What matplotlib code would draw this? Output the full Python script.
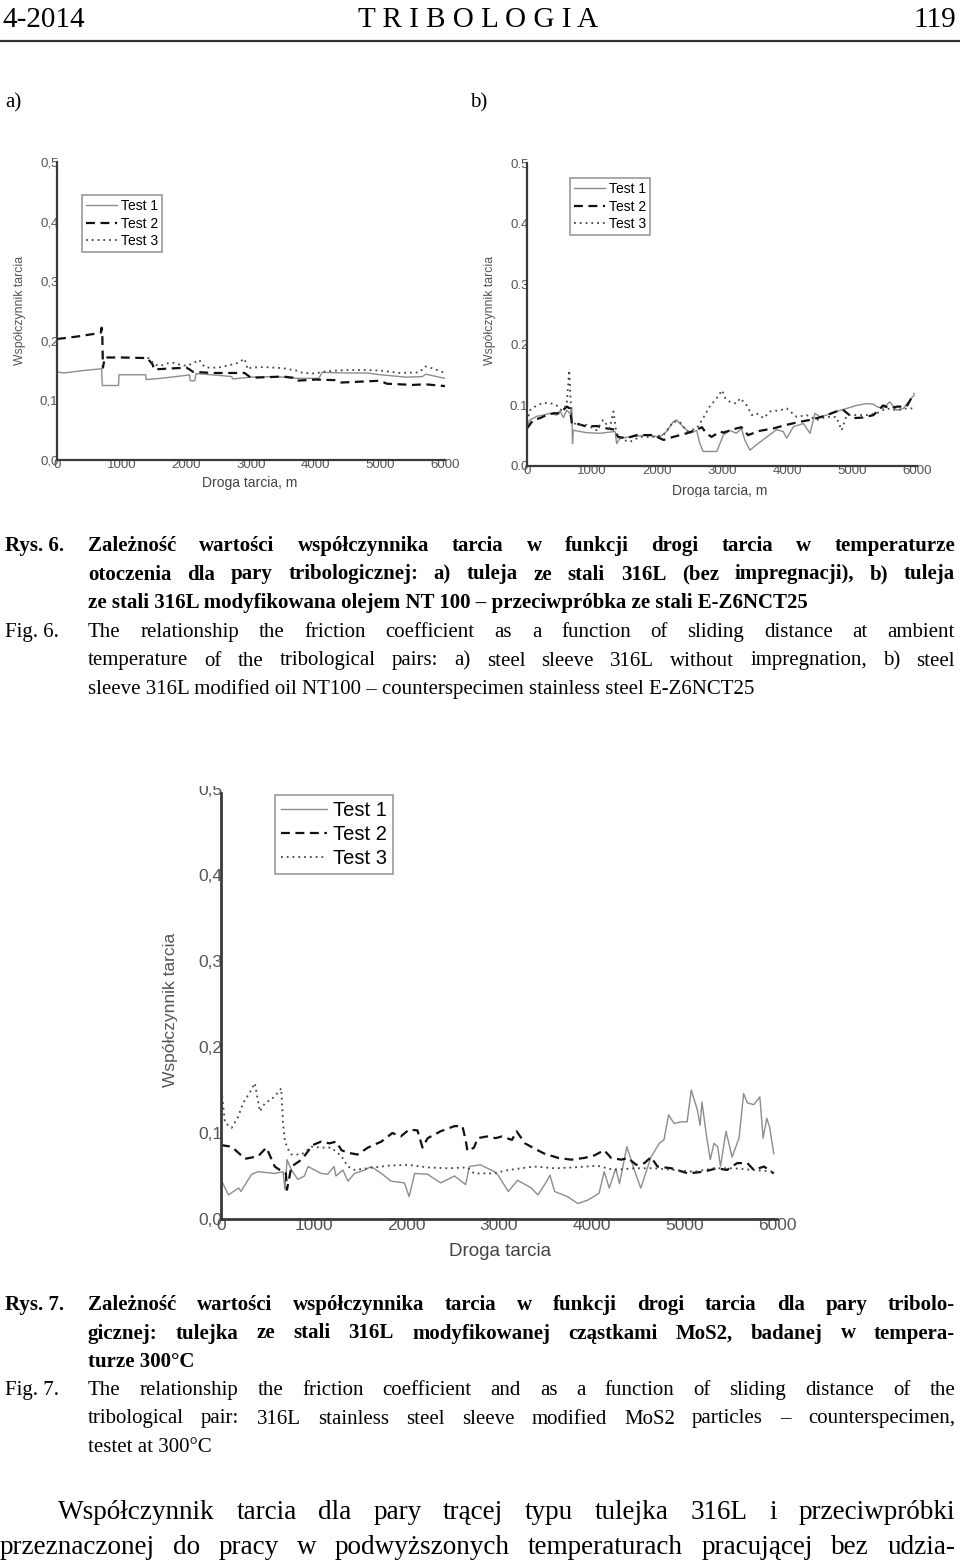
import matplotlib
matplotlib.use("Agg")
import matplotlib.pyplot as plt
from matplotlib.lines import Line2D
from matplotlib.transforms import Bbox

# ---------------- data: Fig. 6a (316L, no impregnation) ----------------
a_t1_x = [0, 100, 400, 680, 690, 700, 950, 960, 1370, 1380, 1600, 2000, 2050, 2060, 2130, 2150,
          2500, 2700, 2720, 3000, 3400, 3700, 4050, 4100, 4500, 4800, 5000, 5400, 5650, 5700, 6000]
a_t1_y = [0.148, 0.146, 0.150, 0.153, 0.153, 0.125, 0.125, 0.143, 0.143, 0.135, 0.137, 0.142, 0.143,
          0.133, 0.133, 0.145, 0.142, 0.140, 0.136, 0.139, 0.140, 0.137, 0.137, 0.147, 0.146, 0.146,
          0.143, 0.139, 0.140, 0.144, 0.137]
a_t2_x = [0, 300, 600, 680, 690, 700, 710, 740, 1000, 1400, 1420, 1480, 1500, 2000, 2050, 2100,
          2400, 2900, 2950, 3000, 3500, 3650, 3700, 4000, 4300, 4400, 5000, 5100, 5500, 5700, 6000]
a_t2_y = [0.203, 0.207, 0.212, 0.214, 0.222, 0.214, 0.155, 0.172, 0.172, 0.171, 0.168, 0.160, 0.152,
          0.155, 0.152, 0.148, 0.146, 0.146, 0.142, 0.138, 0.140, 0.138, 0.133, 0.135, 0.134, 0.130,
          0.133, 0.128, 0.126, 0.127, 0.124]
a_t3_x = [1400, 1450, 1500, 1600, 1700, 1800, 1900, 2000, 2100, 2200, 2250, 2300, 2500, 2700, 2800,
          2900, 2950, 3000, 3200, 3500, 3700, 3800, 4000, 4100, 4300, 4500, 4800, 5000, 5300, 5600,
          5700, 5800, 6000]
a_t3_y = [0.172, 0.168, 0.160, 0.158, 0.162, 0.163, 0.160, 0.158, 0.162, 0.168, 0.160, 0.155, 0.155,
          0.160, 0.163, 0.170, 0.152, 0.155, 0.156, 0.154, 0.150, 0.146, 0.145, 0.148, 0.150, 0.151,
          0.151, 0.150, 0.146, 0.147, 0.157, 0.154, 0.146]

# ---------------- data: Fig. 6b (316L + oil NT 100) ----------------
b_t1_x = [0, 46, 150, 250, 355, 456, 508, 560, 610, 660, 690, 700, 713, 815, 918, 1123, 1355, 1380,
          1430, 1585, 1840, 2045, 2150, 2250, 2300, 2400, 2510, 2610, 2660, 2710, 2810, 2920, 3020,
          3120, 3220, 3300, 3350, 3430, 3530, 3690, 3840, 3940, 3995, 4100, 4250, 4355, 4430, 4510,
          4610, 4760, 4920, 5070, 5225, 5330, 5380, 5480, 5580, 5690, 5790, 5890, 5955]
b_t1_y = [0.065, 0.076, 0.082, 0.084, 0.087, 0.084, 0.091, 0.080, 0.092, 0.087, 0.096, 0.037, 0.059,
          0.057, 0.055, 0.054, 0.057, 0.037, 0.046, 0.048, 0.051, 0.048, 0.057, 0.073, 0.076, 0.065,
          0.054, 0.059, 0.037, 0.024, 0.024, 0.024, 0.051, 0.059, 0.054, 0.062, 0.043, 0.026, 0.035,
          0.048, 0.060, 0.057, 0.046, 0.065, 0.070, 0.054, 0.087, 0.081, 0.084, 0.090, 0.095, 0.100,
          0.103, 0.102, 0.098, 0.095, 0.106, 0.092, 0.095, 0.109, 0.117]
b_t2_x = [0, 97, 200, 300, 405, 508, 610, 660, 690, 765, 918, 1070, 1225, 1355, 1400, 1530, 1690,
          1940, 2100, 2250, 2460, 2610, 2690, 2760, 2840, 2970, 3020, 3220, 3300, 3400, 3580, 3790,
          3995, 4200, 4355, 4560, 4760, 4870, 5020, 5170, 5330, 5480, 5580, 5690, 5840, 5955]
b_t2_y = [0.062, 0.076, 0.079, 0.084, 0.087, 0.087, 0.098, 0.095, 0.070, 0.070, 0.065, 0.066, 0.062,
          0.060, 0.048, 0.046, 0.051, 0.051, 0.043, 0.048, 0.054, 0.060, 0.064, 0.054, 0.048, 0.057,
          0.055, 0.062, 0.064, 0.051, 0.058, 0.062, 0.068, 0.073, 0.076, 0.082, 0.090, 0.092, 0.079,
          0.080, 0.084, 0.100, 0.095, 0.098, 0.098, 0.120]
b_t3_x = [0, 46, 150, 250, 355, 456, 530, 610, 650, 670, 690, 765, 918, 1070, 1170, 1270, 1330, 1380,
          1480, 1585, 1740, 1940, 2100, 2250, 2350, 2460, 2610, 2710, 2810, 2920, 3000, 3050, 3120,
          3220, 3280, 3380, 3460, 3530, 3640, 3740, 3890, 3995, 4150, 4300, 4460, 4610, 4760, 4840,
          4920, 5070, 5225, 5380, 5530, 5690, 5840, 5970]
b_t3_y = [0.073, 0.092, 0.100, 0.104, 0.104, 0.100, 0.092, 0.100, 0.158, 0.112, 0.073, 0.068, 0.068,
          0.059, 0.076, 0.062, 0.090, 0.051, 0.043, 0.040, 0.048, 0.048, 0.051, 0.073, 0.073, 0.057,
          0.062, 0.079, 0.098, 0.112, 0.125, 0.112, 0.106, 0.103, 0.112, 0.100, 0.084, 0.087, 0.079,
          0.090, 0.092, 0.095, 0.081, 0.084, 0.076, 0.081, 0.081, 0.059, 0.084, 0.084, 0.084, 0.087,
          0.095, 0.092, 0.095, 0.095]

# ---------------- data: Fig. 7 (316L + MoS2, 300 C) ----------------
c_t1_x = [0, 80, 190, 215, 330, 400, 580, 670, 690, 713, 760, 830, 900, 940, 1080, 1150, 1220, 1240,
          1315, 1370, 1440, 1550, 1620, 1730, 1835, 1980, 2030, 2090, 2230, 2370, 2520, 2640, 2680,
          2800, 2950, 2990, 3100, 3200, 3350, 3420, 3510, 3550, 3600, 3740, 3850, 3960, 4080, 4135,
          4190, 4260, 4300, 4380, 4460, 4530, 4640, 4730, 4780, 4830, 4890, 4960, 5030, 5075, 5140,
          5170, 5190, 5240, 5280, 5320, 5360, 5390, 5450, 5515, 5590, 5640, 5680, 5750, 5815, 5850,
          5890, 5920, 5965]
c_t1_y = [0.046, 0.028, 0.036, 0.032, 0.052, 0.055, 0.053, 0.055, 0.034, 0.069, 0.057, 0.046, 0.050,
          0.061, 0.053, 0.052, 0.061, 0.050, 0.057, 0.044, 0.053, 0.057, 0.061, 0.053, 0.044, 0.042,
          0.026, 0.053, 0.052, 0.042, 0.050, 0.040, 0.061, 0.063, 0.055, 0.051, 0.032, 0.045, 0.036,
          0.028, 0.043, 0.051, 0.032, 0.026, 0.018, 0.022, 0.030, 0.055, 0.036, 0.059, 0.041, 0.084,
          0.057, 0.036, 0.072, 0.088, 0.092, 0.121, 0.111, 0.113, 0.113, 0.150, 0.127, 0.109, 0.136,
          0.096, 0.069, 0.088, 0.084, 0.061, 0.102, 0.072, 0.094, 0.146, 0.135, 0.133, 0.142, 0.094,
          0.117, 0.107, 0.076]
c_t2_x = [0, 115, 260, 400, 490, 580, 635, 700, 712, 760, 870, 990, 1080, 1170, 1245, 1300, 1370,
          1475, 1585, 1730, 1850, 1940, 2030, 2120, 2175, 2230, 2370, 2520, 2605, 2640, 2660, 2730,
          2770, 2870, 2965, 3030, 3140, 3190, 3280, 3380, 3490, 3640, 3780, 3920, 4030, 4135, 4210,
          4320, 4390, 4480, 4570, 4640, 4710, 4860, 5040, 5210, 5350, 5460, 5570, 5680, 5750, 5860, 5965]
c_t2_y = [0.086, 0.084, 0.070, 0.073, 0.083, 0.061, 0.057, 0.053, 0.034, 0.061, 0.069, 0.086, 0.090,
          0.088, 0.090, 0.080, 0.077, 0.075, 0.083, 0.090, 0.100, 0.096, 0.104, 0.103, 0.083, 0.094,
          0.102, 0.108, 0.108, 0.092, 0.079, 0.083, 0.094, 0.096, 0.094, 0.096, 0.092, 0.102, 0.088,
          0.082, 0.076, 0.071, 0.069, 0.071, 0.074, 0.080, 0.071, 0.069, 0.071, 0.063, 0.065, 0.072,
          0.061, 0.059, 0.053, 0.055, 0.059, 0.057, 0.065, 0.065, 0.057, 0.061, 0.053]
c_t3_x = [0, 43, 115, 186, 240, 310, 365, 420, 475, 545, 615, 650, 670, 690, 725, 760, 870, 975, 1080,
          1190, 1300, 1370, 1440, 1585, 1800, 2015, 2230, 2445, 2660, 2730, 2945, 3100, 3380, 3600,
          3810, 4060, 4240, 4460, 4670, 4890, 5110, 5320, 5530, 5750, 5965]
c_t3_y = [0.156, 0.112, 0.106, 0.119, 0.135, 0.147, 0.158, 0.125, 0.135, 0.139, 0.147, 0.152, 0.110,
          0.090, 0.081, 0.075, 0.075, 0.084, 0.083, 0.083, 0.073, 0.061, 0.057, 0.059, 0.062, 0.063,
          0.060, 0.059, 0.060, 0.053, 0.053, 0.057, 0.061, 0.059, 0.060, 0.062, 0.057, 0.059, 0.059,
          0.057, 0.055, 0.059, 0.059, 0.057, 0.055]

x_ticks = [0, 1000, 2000, 3000, 4000, 5000, 6000]
y_ticks = [0.0, 0.1, 0.2, 0.3, 0.4, 0.5]
y_lbl_comma = ["0,0", "0,1", "0,2", "0,3", "0,4", "0,5"]
y_lbl_dot = ["0.0", "0.1", "0.2", "0.3", "0.4", "0.5"]
legend_labels = ["Test 1", "Test 2", "Test 3"]

# ---------------- page text ----------------
cap6_pl = ["Zależność wartości współczynnika tarcia w funkcji drogi tarcia w temperaturze",
           "otoczenia dla pary tribologicznej: a) tuleja ze stali 316L (bez impregnacji), b) tuleja",
           "ze stali 316L modyfikowana olejem NT 100 – przeciwpróbka ze stali E-Z6NCT25"]
cap6_en = ["The relationship the friction coefficient as a function of sliding distance at ambient",
           "temperature of the tribological pairs: a) steel sleeve 316L without impregnation, b) steel",
           "sleeve 316L modified oil NT100 – counterspecimen stainless steel E-Z6NCT25"]
cap7_pl = ["Zależność wartości współczynnika tarcia w funkcji drogi tarcia dla pary tribolo-",
           "gicznej: tulejka ze stali 316L modyfikowanej cząstkami MoS2, badanej w tempera-",
           "turze 300°C"]
cap7_en = ["The relationship the friction coefficient and as a function of sliding distance of the",
           "tribological pair: 316L stainless steel sleeve modified MoS2 particles – counterspecimen,",
           "testet at 300°C"]
body = ["Współczynnik tarcia dla pary trącej typu tulejka 316L i przeciwpróbki",
        "przeznaczonej do pracy w podwyższonych temperaturach pracującej bez udzia-"]

W, H = 960, 1564
SERIF = "Liberation Serif"
SANS = "Liberation Sans"

fig = plt.figure(figsize=(W / 100, H / 100), dpi=100)
renderer = fig.canvas.get_renderer()


def fx(x):
    return x / W


def fy(y):
    return 1 - y / H


def put_line(text, x0, x1, y, size, weight="normal", justify=True):
    """write one line with its baseline at y (px from top); spread words to x1 if justify"""
    if not justify:
        fig.text(fx(x0), fy(y), text, fontsize=size, fontweight=weight, family=SERIF,
                 va="baseline", ha="left")
        return
    words = text.split(" ")
    objs = [fig.text(0, fy(y), w, fontsize=size, fontweight=weight, family=SERIF,
                     va="baseline", ha="left") for w in words]
    widths = [o.get_window_extent(renderer).width for o in objs]
    gap = (x1 - x0 - sum(widths)) / max(len(words) - 1, 1)
    x = x0
    for o, w in zip(objs, widths):
        o.set_x(fx(x))
        x += w + gap


def clip_above(artist, ytop):
    # hide everything of the artist below ytop (px from top)
    artist.set_clip_box(Bbox.from_extents(0, H - ytop, W, H))
    artist.set_clip_on(True)


# header
fig.text(fx(2), fy(27), "4-2014", fontsize=21, family=SERIF, va="baseline")
fig.text(fx(478), fy(27), "T R I B O L O G I A", fontsize=21, family=SERIF, va="baseline", ha="center")
fig.text(fx(956), fy(27), "119", fontsize=21, family=SERIF, va="baseline", ha="right")
fig.add_artist(Line2D([0, 1], [fy(41), fy(41)], color="#333333", lw=1.6))
fig.text(fx(5), fy(107), "a)", fontsize=15, family=SERIF, va="baseline")
fig.text(fx(470), fy(107), "b)", fontsize=15, family=SERIF, va="baseline")


def chart(box, series, ylabels, fs, lw_axis, leg_anchor, leg_fs, handlelen):
    left, right, bottom, top = box
    ax = fig.add_axes([fx(left), fy(bottom), fx(right) - fx(left), fy(top) - fy(bottom)])
    styles = [dict(color="#8c8c8c", lw=1.0, ls="-"),
              dict(color="#111111", lw=1.6, ls=(0, (4, 2.5))),
              dict(color="#444444", lw=1.3, ls=(0, (1, 2.2)))]
    for (xs, ys), st, lab in zip(series, styles, legend_labels):
        ax.plot(xs, ys, label=lab, **st)
    ax.set_xlim(0, 6000)
    ax.set_ylim(0, 0.5)
    ax.set_xticks(x_ticks)
    ax.set_yticks(y_ticks)
    ax.set_yticklabels(ylabels)
    for s in ["top", "right"]:
        ax.spines[s].set_visible(False)
    for s in ["left", "bottom"]:
        ax.spines[s].set_color("#3a3a3a")
        ax.spines[s].set_linewidth(lw_axis)
    ax.tick_params(length=0, pad=-1, labelsize=fs, labelcolor="#555555")
    for t in ax.get_xticklabels() + ax.get_yticklabels():
        t.set_family(SANS)
    leg = ax.legend(loc="upper left", bbox_to_anchor=(fx(leg_anchor[0]), fy(leg_anchor[1])),
                    bbox_transform=fig.transFigure, borderaxespad=0, fancybox=False,
                    edgecolor="#9a9a9a", framealpha=1, handlelength=handlelen,
                    handletextpad=0.3, labelspacing=0.25, borderpad=0.3,
                    prop={"family": SANS, "size": leg_fs})
    leg.get_frame().set_linewidth(1.2)
    return ax


ax_a = chart((57, 445, 460, 162),
             [(a_t1_x, a_t1_y), (a_t2_x, a_t2_y), (a_t3_x, a_t3_y)],
             y_lbl_comma, 9.5, 1.6, (82, 195), 10, 2.2)
fig.text(fx(20), fy(310), "Współczynnik tarcia", rotation=90, fontsize=8.8, family=SANS,
         color="#555555", ha="center", va="center")
fig.text(fx(250), fy(483), "Droga tarcia, m", fontsize=10, family=SANS, color="#444444",
         ha="center", va="center")

ax_b = chart((527, 917, 466, 163),
             [(b_t1_x, b_t1_y), (b_t2_x, b_t2_y), (b_t3_x, b_t3_y)],
             y_lbl_dot, 9.5, 1.6, (570, 178), 10, 2.2)
fig.text(fx(490), fy(310), "Współczynnik tarcia", rotation=90, fontsize=8.8, family=SANS,
         color="#555555", ha="center", va="center")
t = fig.text(fx(720), fy(491), "Droga tarcia, m", fontsize=10, family=SANS, color="#444444",
             ha="center", va="center")
clip_above(t, 497)

ax_c = chart((221, 777, 1219, 789),
             [(c_t1_x, c_t1_y), (c_t2_x, c_t2_y), (c_t3_x, c_t3_y)],
             y_lbl_comma, 12.5, 2.0, (275, 795), 14.5, 2.3)
ax_c.spines["left"].set_bounds(0, 0.495)
top_lbl = ax_c.yaxis.get_major_ticks()[-1].label1
top_lbl.set_clip_box(Bbox.from_extents(0, 0, W, H - 786))
top_lbl.set_clip_on(True)
fig.text(fx(170), fy(1010), "Współczynnik tarcia", rotation=90, fontsize=12.5, family=SANS,
         color="#555555", ha="center", va="center")
t = fig.text(fx(500), fy(1252), "Droga tarcia", fontsize=13.5, family=SANS, color="#444444",
             ha="center", va="center")
clip_above(t, 1261)

# captions
CS = 15
put_line("Rys. 6.", 5, 0, 551, CS, "bold", justify=False)
for i, line in enumerate(cap6_pl):
    put_line(line, 88, 955, 551 + i * 28.5, CS, "bold", justify=(i < 2))
put_line("Fig. 6.", 5, 0, 637, CS, justify=False)
for i, line in enumerate(cap6_en):
    put_line(line, 88, 955, 637 + i * 28.5, CS, justify=(i < 2))

put_line("Rys. 7.", 5, 0, 1310, CS, "bold", justify=False)
for i, line in enumerate(cap7_pl):
    put_line(line, 88, 955, 1310 + i * 28.5, CS, "bold", justify=(i < 2))
put_line("Fig. 7.", 5, 0, 1395, CS, justify=False)
for i, line in enumerate(cap7_en):
    put_line(line, 88, 955, 1395 + i * 28.5, CS, justify=(i < 2))

put_line(body[0], 58, 955, 1519, 19.5)
put_line(body[1], 0, 955, 1554, 19.5)

fig.savefig("out.png", dpi=100)
